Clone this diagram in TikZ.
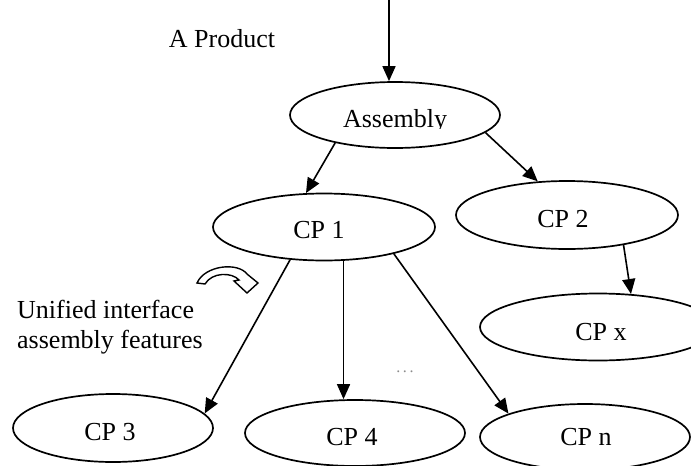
\documentclass[tikz,border=0pt]{standalone}
\usepackage{fontspec}
\setmainfont{Liberation Serif}
\usetikzlibrary{shapes.geometric,arrows.meta}
\begin{document}
\begin{tikzpicture}[x=1pt,y=-1pt,
  ell/.style={draw,ellipse,line width=1.7pt,inner sep=0pt},
  lbl/.style={font=\fontsize{26}{30}\selectfont,inner sep=0pt,anchor=base},
  arr/.style={line width=1.6pt,-{Triangle[length=15pt,width=13pt]}}]
\useasboundingbox[fill=white] (0,0) rectangle (691,466);

% ellipses
\node[ell,minimum width=210pt,minimum height=66pt] (asm) at (395,115) {};
\node[ell,minimum width=222pt,minimum height=67pt] (cp1) at (324,227) {};
\node[ell,minimum width=222pt,minimum height=68pt] (cp2) at (567,215) {};
\node[ell,minimum width=236pt,minimum height=67pt] (cpx) at (598,327) {};
\node[ell,minimum width=200pt,minimum height=68pt] (cp3) at (113,428) {};
\node[ell,minimum width=220pt,minimum height=66pt] (cp4) at (355,433) {};
\node[ell,minimum width=210pt,minimum height=66pt] (cpn) at (585,437) {};

% labels
\begin{scope}
  \clip (300,95) rectangle (490,128.5);
  \node[lbl] (asmt) at (395,127) {Assembly};
\end{scope}
\node[lbl] (cp1t) at (319,238) {CP 1};
\node[lbl] (cp2t) at (563,227) {CP 2};
\node[lbl] (cpxt) at (601,340) {CP x};
\node[lbl] (cp3t) at (110,440) {CP 3};
\node[lbl] (cp4t) at (352,445) {CP 4};
\node[lbl] (cpnt) at (586,445) {CP n};
\node[lbl] (prod) at (222,47) {A Product};
\node[lbl,anchor=base west] (uni1) at (17,318) {Unified interface};
\node[lbl,anchor=base west] (uni2) at (17,348) {assembly features};
\node[font=\fontsize{16}{18}\selectfont,text=black!45,inner sep=0pt] (dots) at (405,372) {.\,.\,.};

% connectors
\coordinate (t0) at (389,0);
\draw[arr] (t0) -- (t0 |- asm.north);
\draw[arr] (asm.205) -- (cp1.118);
\draw[arr] (asm.349) -- (cp2.131);
\draw[arr] (cp2.332) -- (cpx.45);
\draw[arr] (cp1.224) -- (cp3.9);
\draw[arr] (cp1.300) -- (cp1.300 |- cp4.north);
\draw[arr] (cp1.339) -- (cpn.163);

% curved hollow arrow
\draw[line width=1.4pt,fill=white,line join=miter]
  (197,283) .. controls (205,265) and (238,262) .. (247,274)
  -- (258,283) -- (247,293) -- (234,281) -- (239,280)
  .. controls (232,272) and (212,272) .. (205,284) -- cycle;
\end{tikzpicture}
\end{document}
